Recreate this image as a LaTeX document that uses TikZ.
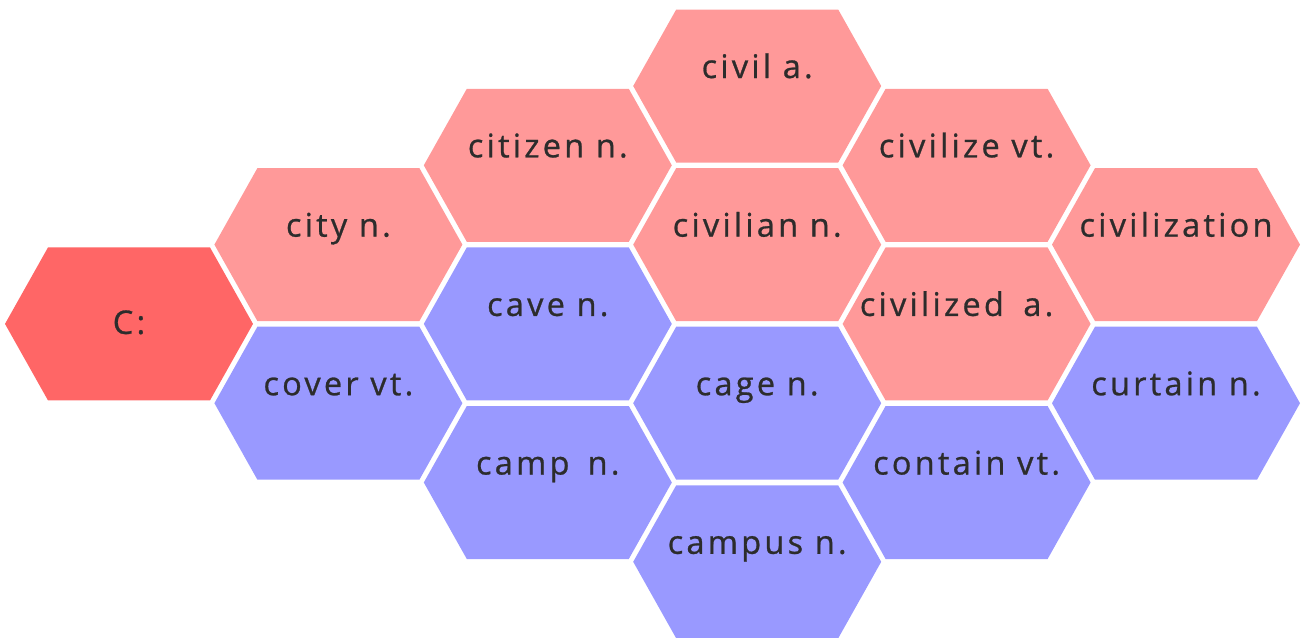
\documentclass[tikz,border=0pt]{standalone}
\usepackage{fontspec}
\setmainfont{Open Sans}[LetterSpace=10,FakeBold=0.8]
\definecolor{hexred}{HTML}{FF6666}
\definecolor{hexpink}{HTML}{FF9999}
\definecolor{hexblue}{HTML}{9999FF}
\definecolor{wordgray}{HTML}{2C2C2C}
\tikzset{
  hexfill/.style={fill=#1},
  wordlabel/.style={anchor=base, inner sep=0pt, text=wordgray, font=\fontsize{32.5}{38}\selectfont}
}
% #1 name, #2 column, #3 row, #4 colour, #5 baseline offset, #6 text
\newcommand\hexcell[6]{%
  \begin{scope}[shift={({129+209.4*#2},{86+79.3*#3})}]
    \fill[hexfill=#4] (-124,0) -- (-81,-76.5) -- (81,-76.5) -- (124,0) -- (81,76.5) -- (-81,76.5) -- cycle;
    \node[wordlabel] (#1) at (0,#5) {#6};
  \end{scope}}
\begin{document}
\begin{tikzpicture}[x=1pt,y=-1pt]
\useasboundingbox (0,0) rectangle (1306,637);
\hexcell{c}{0}{3}{hexred}{10}{C:}
\hexcell{city}{1}{2}{hexpink}{-8}{city n.}
\hexcell{cover}{1}{4}{hexblue}{-8}{cover vt.}
\hexcell{citizen}{2}{1}{hexpink}{-8}{citizen n.}
\hexcell{cave}{2}{3}{hexblue}{-8}{cave n.}
\hexcell{camp}{2}{5}{hexblue}{-8}{camp\hspace{0.2em} n.}
\hexcell{civil}{3}{0}{hexpink}{-8}{civil a.}
\hexcell{civilian}{3}{2}{hexpink}{-8}{civilian n.}
\hexcell{cage}{3}{4}{hexblue}{-8}{cage n.}
\hexcell{campus}{3}{6}{hexblue}{-8}{campus n.}
\hexcell{civilize}{4}{1}{hexpink}{-8}{civilize vt.}
\hexcell{civilized}{4}{3}{hexpink}{-8}{\hspace{-20pt}civilized\hspace{0.6em}a.}
\hexcell{contain}{4}{5}{hexblue}{-8}{contain vt.}
\hexcell{civilization}{5}{2}{hexpink}{-8}{civilization}
\hexcell{curtain}{5}{4}{hexblue}{-8}{curtain n.}
\end{tikzpicture}
\end{document}
